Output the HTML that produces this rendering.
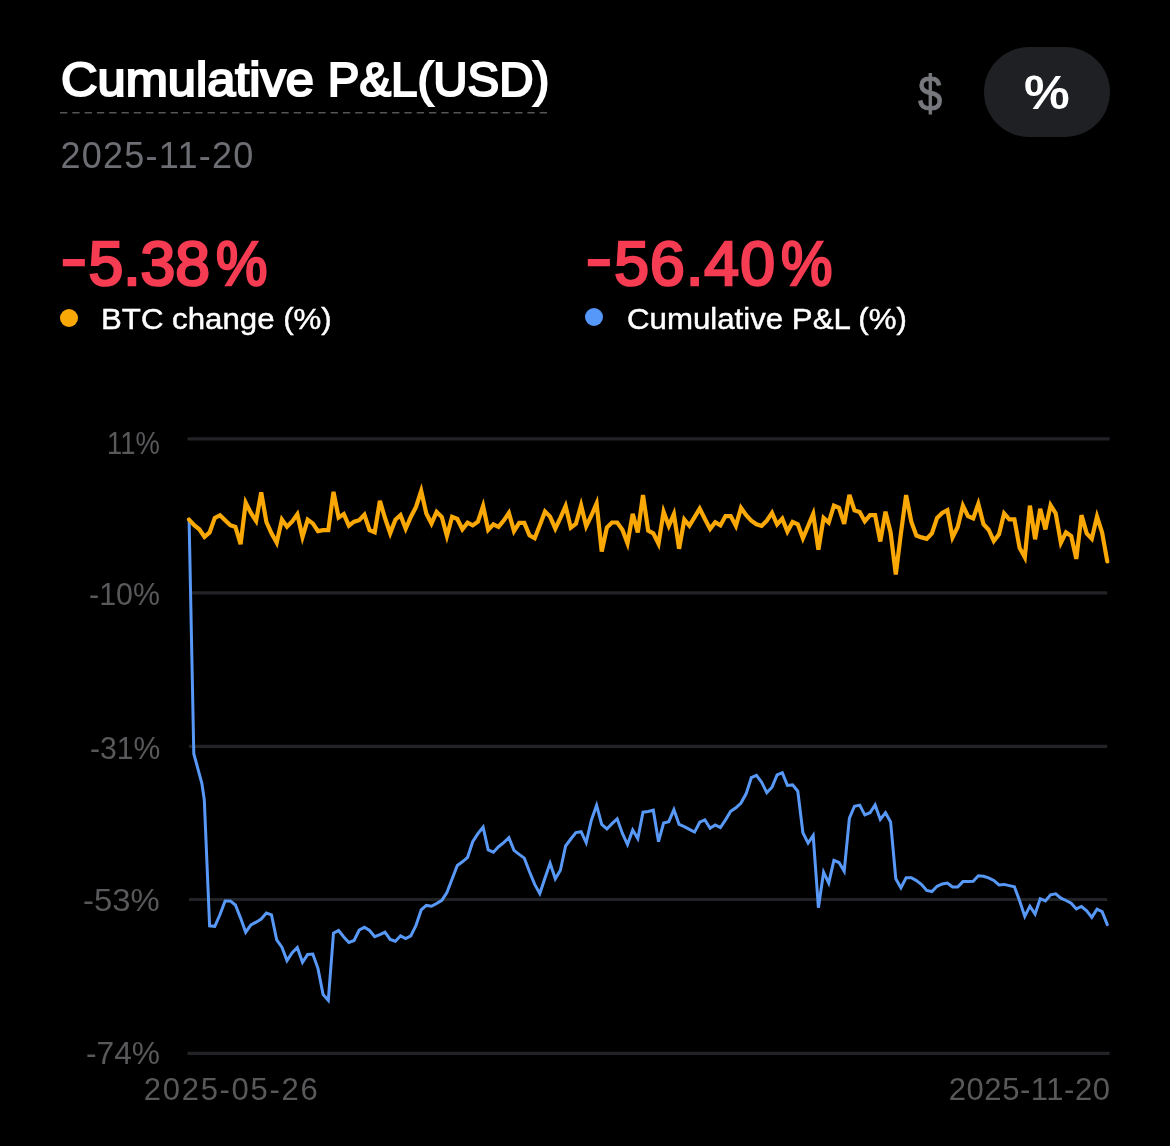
<!DOCTYPE html>
<html lang="en"><head><meta charset="utf-8"><title>Cumulative P&amp;L</title>
<style>
html,body{margin:0;padding:0;background:#000;}
body{width:1170px;height:1146px;position:relative;overflow:hidden;font-family:"Liberation Sans",sans-serif;}
.t{position:absolute;white-space:nowrap;line-height:1;transform-origin:0 0;}
#pill{position:absolute;left:984px;top:47px;width:126px;height:90px;border-radius:45px;background:#1f2024;}
.dot{position:absolute;width:18px;height:18px;border-radius:50%;}
svg{position:absolute;left:0;top:0;}
</style></head><body>
<div class="t" id="title" style="left:60.7px;top:54.7px;font-size:49px;color:#ffffff;transform:scale(1.001,1);-webkit-text-stroke:2.2px #ffffff;"><span style="display:inline-block;transform:scaleX(1.031);transform-origin:0 50%">Cumulative</span> <span style="display:inline-block;transform:scaleX(0.967);transform-origin:100% 50%">P&amp;L(USD)</span></div>
<svg id="dashsvg" width="1170" height="1146" viewBox="0 0 1170 1146"><line x1="60" x2="551" y1="112.8" y2="112.8" stroke="#535559" stroke-width="1.6" stroke-dasharray="7.3 5"/></svg>
<div class="t" id="date" style="left:60.5px;top:138.0px;font-size:36px;color:#6c6e73;letter-spacing:1.25px;">2025-11-20</div>
<div class="t" id="dollar" style="left:918.27px;top:69.7px;font-size:49.7px;color:#77797e;transform:scale(0.8773,1);-webkit-text-stroke:0.9px #77797e;">$</div>
<div id="pill"></div>
<div class="t" id="pct" style="left:1023.88px;top:68.12px;font-size:49px;color:#ffffff;font-weight:bold;transform:scale(1.049,1);">%</div>
<div class="t" id="v1" style="left:60.5px;top:231.7px;font-size:62.5px;color:#f53c52;letter-spacing:-0.1px;-webkit-text-stroke:2.6px #f53c52;"><span style="display:inline-block;transform:translate(0,-0.091em) scale(1.235,0.94);transform-origin:0 50%;margin-right:0.118em">-</span>5.38<span style="display:inline-block;transform:scale(0.925,1);transform-origin:0 50%;margin-left:0.1em">%</span></div>
<div class="t" id="v2" style="left:586.0px;top:231.7px;font-size:62.5px;color:#f53c52;letter-spacing:1.1px;-webkit-text-stroke:2.6px #f53c52;"><span style="display:inline-block;transform:translate(0,-0.091em) scale(1.235,0.94);transform-origin:0 50%;margin-right:0.1em">-</span>56.40<span style="display:inline-block;transform:scale(0.925,1);transform-origin:0 50%;margin-left:0.084em">%</span></div>
<div class="dot" style="left:60px;top:308.5px;background:#f9a806"></div>
<div class="dot" style="left:585px;top:308.3px;background:#5598fa"></div>
<div class="t" id="l1" style="left:101.39px;top:303.9px;font-size:30px;color:#ffffff;transform:scale(1.0405,1);-webkit-text-stroke:0.45px #ffffff;">BTC change (%)</div>
<div class="t" id="l2" style="left:627.22px;top:303.9px;font-size:30px;color:#ffffff;transform:scale(1.0405,1);-webkit-text-stroke:0.45px #ffffff;">Cumulative P&amp;L (%)</div>
<div class="t" id="y1" style="left:107.09px;top:427.7px;font-size:31px;color:#59595c;transform:scale(0.8826,1);">11%</div><div class="t" id="y2" style="left:89.17px;top:579.3px;font-size:31px;color:#59595c;transform:scale(0.9809,1);">-10%</div><div class="t" id="y3" style="left:89.69px;top:732.8px;font-size:31px;color:#59595c;transform:scale(0.9732,1);">-31%</div><div class="t" id="y4" style="left:83.46px;top:884.7px;font-size:31px;color:#59595c;transform:scale(1.0602,1);">-53%</div><div class="t" id="y5" style="left:85.7px;top:1038.2px;font-size:31px;color:#59595c;transform:scale(1.0236,1);">-74%</div>
<div class="t" id="x1" style="left:143.84px;top:1073.6px;font-size:31px;color:#59595c;letter-spacing:1.7px;">2025-05-26</div><div class="t" id="x2" style="left:948.78px;top:1073.6px;font-size:31px;color:#59595c;letter-spacing:0.55px;">2025-11-20</div>
<svg id="chart" width="1170" height="1146" viewBox="0 0 1170 1146">
<g stroke="#222327" stroke-width="3.2"><line x1="187.5" x2="1109.6" y1="438.9" y2="438.9"/><line x1="189" x2="1107.3" y1="592.8" y2="592.8"/><line x1="189" x2="1107.3" y1="746.4" y2="746.4"/><line x1="189" x2="1107.3" y1="899.5" y2="899.5"/><line x1="187.5" x2="1109.6" y1="1053.3" y2="1053.3"/></g>
<polyline fill="none" stroke="#5898f7" stroke-width="3" stroke-linecap="round" stroke-linejoin="miter" stroke-miterlimit="4.2" points="189.1,520.0 193.8,753.7 201.9,783.5 204.3,800.0 209.6,925.8 214.8,926.3 220.0,914.5 225.1,900.9 230.3,900.9 235.4,905.0 240.6,918.1 245.7,932.2 250.9,924.9 256.1,922.2 261.2,919.0 266.4,913.1 271.5,914.9 276.7,939.9 281.9,947.1 287.0,960.6 292.2,952.7 297.3,947.6 302.5,962.3 307.7,954.5 312.8,954.1 318.0,968.6 323.1,994.5 328.3,1000.4 333.5,933.2 338.6,930.5 343.8,936.9 348.9,942.5 354.1,940.5 359.2,930.0 364.4,927.3 369.6,930.5 374.7,936.7 379.9,934.6 385.0,932.2 390.2,939.4 395.4,941.2 400.5,935.8 405.7,938.5 410.8,935.8 416.0,925.3 421.2,909.9 426.3,905.4 431.5,906.3 436.6,903.5 441.8,900.4 446.9,892.6 452.1,879.0 457.3,865.4 462.4,861.8 467.6,857.3 472.7,841.7 477.9,833.6 483.1,827.2 488.2,849.9 493.4,852.2 498.5,846.7 503.7,842.6 508.9,837.7 514.0,850.4 519.2,854.4 524.3,858.1 529.5,871.7 534.7,884.4 539.8,893.5 545.0,878.0 550.1,863.1 555.3,878.8 560.4,870.3 565.6,846.0 570.8,839.0 575.9,832.6 581.1,831.7 586.2,842.6 591.4,819.9 596.6,805.4 601.7,824.5 606.9,829.0 612.0,823.6 617.2,818.8 622.4,833.5 627.5,844.6 632.7,829.9 637.8,838.5 643.0,812.2 648.2,811.5 653.3,810.2 658.5,841.7 663.6,823.1 668.8,821.7 673.9,809.7 679.1,824.4 684.3,826.7 689.4,829.4 694.6,832.1 699.7,822.2 704.9,819.9 710.1,828.2 715.2,824.9 720.4,827.6 725.5,819.9 730.7,811.3 735.9,807.8 741.0,803.0 746.2,793.6 751.3,777.7 756.5,775.4 761.6,782.2 766.8,792.6 772.0,787.2 777.1,775.0 782.3,772.7 787.4,785.4 792.6,784.9 797.8,791.2 802.9,832.7 808.1,843.1 813.2,835.4 818.4,907.7 823.6,872.2 828.7,883.1 833.9,860.3 839.0,862.5 844.2,871.2 849.4,818.1 854.5,806.2 859.7,805.1 864.8,814.9 870.0,812.7 875.1,804.9 880.3,819.4 885.5,812.7 890.6,821.9 895.8,878.7 900.9,887.9 906.1,877.8 911.3,877.8 916.4,880.6 921.6,884.5 926.7,890.4 931.9,891.5 937.1,886.3 942.2,884.0 947.4,883.1 952.5,887.0 957.7,887.0 962.9,881.6 968.0,881.6 973.2,881.3 978.3,875.8 983.5,876.3 988.6,877.9 993.8,880.4 999.0,884.9 1004.1,884.4 1009.3,885.6 1014.4,886.8 1019.6,900.7 1024.8,916.4 1029.9,906.2 1035.1,914.0 1040.2,898.7 1045.4,900.9 1050.6,894.8 1055.7,893.8 1060.9,898.2 1066.0,900.5 1071.2,903.2 1076.3,908.9 1081.5,906.5 1086.7,910.9 1091.8,917.4 1097.0,909.2 1102.1,911.7 1107.3,924.6"/>
<polyline fill="none" stroke="#f9a806" stroke-width="4.2" stroke-linecap="round" stroke-linejoin="miter" stroke-miterlimit="4" points="189.0,519.6 194.2,525.2 199.3,529.3 204.5,536.8 209.6,532.4 214.8,517.9 220.0,515.2 225.1,520.2 230.3,525.2 235.4,527.0 240.6,544.2 245.7,502.7 250.9,513.0 256.1,521.0 261.2,492.3 266.4,522.0 271.5,533.4 276.7,542.6 281.9,519.5 287.0,526.8 292.2,521.4 297.3,514.3 302.5,537.0 307.7,519.7 312.8,523.4 318.0,531.1 323.1,530.2 328.3,530.2 333.5,491.8 338.6,517.5 343.8,514.1 348.9,525.6 354.1,521.6 359.2,520.2 364.4,514.8 369.6,530.2 374.7,532.3 379.9,500.9 385.0,518.0 390.2,533.3 395.4,519.7 400.5,515.2 405.7,528.8 410.8,517.0 416.0,507.0 421.2,491.0 426.3,513.4 431.5,523.5 436.6,511.9 441.8,517.0 446.9,536.0 452.1,516.8 457.3,519.0 462.4,529.3 467.6,522.7 472.7,525.4 477.9,521.6 483.1,506.0 488.2,529.9 493.4,524.3 498.5,526.8 503.7,520.6 508.9,512.9 514.0,531.1 519.2,522.9 524.3,522.9 529.5,535.2 534.7,538.3 539.8,525.2 545.0,511.5 550.1,516.6 555.3,528.6 560.4,517.8 565.6,506.1 570.8,527.7 575.9,523.8 581.1,505.3 586.2,526.3 591.4,515.5 596.6,503.5 601.7,551.5 606.9,527.5 612.0,522.5 617.2,522.5 622.4,529.7 627.5,543.3 632.7,513.8 637.8,532.4 643.0,495.1 648.2,530.6 653.3,533.4 658.5,543.8 663.6,511.8 668.8,525.9 673.9,514.1 679.1,548.8 684.3,519.6 689.4,525.6 694.6,517.2 699.7,508.6 704.9,519.0 710.1,528.8 715.2,522.3 720.4,525.4 725.5,516.1 730.7,516.1 735.9,525.9 741.0,507.9 746.2,515.2 751.3,520.6 756.5,524.3 761.6,525.9 766.8,520.6 772.0,512.8 777.1,524.5 782.3,518.7 787.4,531.5 792.6,522.0 797.8,524.3 802.9,538.3 808.1,526.0 813.2,513.9 818.4,549.7 823.6,517.9 828.7,522.5 833.9,505.7 839.0,507.9 844.2,523.9 849.4,494.8 854.5,510.4 859.7,512.0 864.8,521.4 870.0,515.2 875.1,515.2 880.3,541.5 885.5,511.7 890.6,532.4 895.8,574.6 900.9,533.4 906.1,495.1 911.3,521.6 916.4,535.6 921.6,537.4 926.7,538.8 931.9,533.4 937.1,517.9 942.2,512.9 947.4,510.2 952.5,537.4 957.7,527.0 962.9,505.7 968.0,516.1 973.2,518.4 978.3,503.9 983.5,524.3 988.6,529.7 993.8,541.0 999.0,534.3 1004.1,513.4 1009.3,519.3 1014.4,519.3 1019.6,547.9 1024.8,557.3 1029.9,505.6 1035.1,539.3 1040.2,508.8 1045.4,529.4 1050.6,505.2 1055.7,513.4 1060.9,542.8 1066.0,532.4 1071.2,536.1 1076.3,558.9 1081.5,515.2 1086.7,533.4 1091.8,538.7 1097.0,516.6 1102.1,532.4 1107.3,561.5"/>
</svg>
</body></html>
